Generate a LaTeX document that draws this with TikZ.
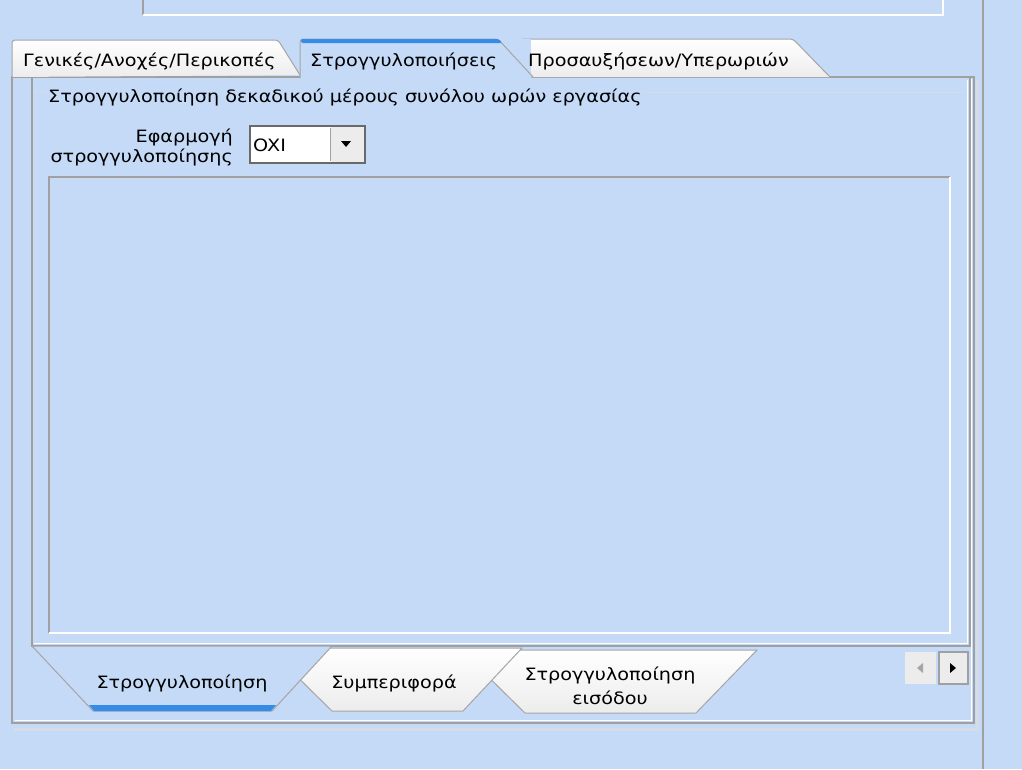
\documentclass[tikz,border=0pt]{standalone}
\usepackage{fontspec}
\newfontfamily\uifont[FakeStretch=1.13]{DejaVu Sans}
\usetikzlibrary{shapes.geometric}

\definecolor{panelblue}{RGB}{197,218,247}
\definecolor{framegray}{RGB}{160,160,160}
\definecolor{tabgray}{RGB}{165,165,165}
\definecolor{tabfill}{RGB}{236,236,236}
\definecolor{selblue}{RGB}{52,139,232}
\definecolor{shadowline}{RGB}{212,220,232}
\definecolor{combogray}{RGB}{105,105,105}
\definecolor{btnfill}{RGB}{236,236,236}

\tikzset{
  uitext/.style={font=\uifont\fontsize{17}{20}\selectfont, text=black, inner sep=0pt},
  tabpage/.style={draw=tabgray, line width=1pt, top color=white, bottom color=tabfill},
  tabsel/.style={draw=tabgray, line width=1pt, fill=panelblue},
}

\begin{document}
\begin{tikzpicture}[x=1pt,y=-1pt]
\fill[panelblue] (0,0) rectangle (1022,769);
\useasboundingbox (0,0) rectangle (1022,769);

% top box and right divider
\draw[framegray, line width=1.5pt] (143,0) -- (143,15);
\draw[white, line width=1.5pt] (143,15) -- (943,15) -- (943,0);
\draw[framegray, line width=1.5pt] (983,0) -- (983,769);

% outer frame
\draw[shadowline, line width=3pt] (14,729.5) -- (977.5,729.5) -- (977.5,80);
\draw[framegray, line width=2pt] (12,77) rectangle (974,723);
\draw[white, line width=1pt] (14.5,720.5) -- (971.5,720.5) -- (971.5,79);

% tab page and group box
\draw[framegray, line width=1.5pt] (32,78) -- (32,646) -- (970,646) -- (970,78);
\draw[white, line width=1pt] (34,643.5) -- (967.5,643.5) -- (967.5,80);
\draw[shadowline, line width=1pt] (46,92.5) -- (35,92.5) -- (35,641);
\draw[shadowline, line width=1pt] (643,92.5) -- (966,92.5);

% top tabs
\draw[tabpage, rounded corners=3pt] (520,77) -- (520,39) -- (793,39) [sharp corners] -- (830,77);
\draw[tabpage, rounded corners=3pt] (12,77) -- (12,40) -- (278,40) [sharp corners] -- (300,75);
\fill[panelblue] (301,39) rectangle (531,79);
\draw[tabsel, rounded corners=3pt] (300,78) -- (300,39) -- (498,39) [sharp corners] -- (533,77);
\fill[selblue, rounded corners=2pt] (301,39) -- (499,39) -- (502,43) -- (301,43) -- cycle;

\node[uitext, anchor=base west] (tabgen) at (23,66) {Γενικές/Ανοχές/Περικοπές};
\node[uitext, anchor=base west] (tabround) at (310,66) {Στρογγυλοποιήσεις};
\node[uitext, anchor=base west] (tabextra) at (528,66) {Προσαυξήσεων/Υπερωριών};

% group box contents
\node[uitext, anchor=base west] (grouplabel) at (48,102) {Στρογγυλοποίηση δεκαδικού μέρους συνόλου ωρών εργασίας};
\node[uitext, anchor=base east] (applylabel) at (233,142) {Εφαρμογή};
\node[uitext, anchor=base east] (applylabelb) at (233,162) {στρογγυλοποίησης};

\filldraw[draw=combogray, fill=white, line width=1.5pt] (250,126) rectangle (365,163);
\fill[btnfill] (331,127) rectangle (364,162);
\draw[framegray, line width=1pt] (330.5,128) -- (330.5,161);
\fill[black] (341,141) -- (351,141) -- (346,147) -- cycle;
\node[uitext, anchor=base west] (combotext) at (253,151) {OXI};

\draw[framegray, line width=1.5pt] (49,633) -- (49,177) -- (950,177);
\draw[white, line width=1.5pt] (49,633) -- (950,633) -- (950,177);

% bottom tabs
\draw[tabpage] (461,650) -- (757,650) -- (696,713) -- (525,713) -- cycle;
\draw[tabpage] (268,648) -- (522,648) -- (463,711) -- (332,711) -- cycle;
\draw[tabsel] (32,646) -- (332,646) -- (272,711) -- (93,711) -- cycle;
\fill[selblue] (89,705) -- (276,705) -- (271,711) -- (94,711) -- cycle;

\node[uitext, anchor=base] (botround) at (182,688) {Στρογγυλοποίηση};
\node[uitext, anchor=base] (botbehave) at (394,688) {Συμπεριφορά};
\node[uitext, anchor=base] (botinput) at (610,680) {Στρογγυλοποίηση};
\node[uitext, anchor=base] (botinputb) at (610,704) {εισόδου};

% scroll buttons
\fill[btnfill] (905,652) rectangle (936,684);
\fill[gray!70] (917,668) -- (923,663) -- (923,673) -- cycle;
\filldraw[draw=framegray, fill=btnfill, line width=1.5pt] (939,652) rectangle (968,684);
\fill[black] (956,668) -- (950,663) -- (950,673) -- cycle;
\end{tikzpicture}
\end{document}
